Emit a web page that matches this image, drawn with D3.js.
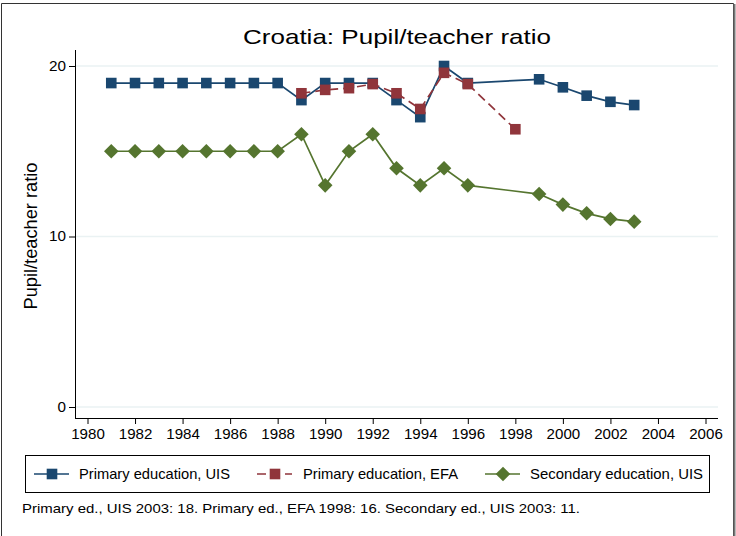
<!DOCTYPE html>
<html><head><meta charset="utf-8">
<script src="https://cdn.jsdelivr.net/npm/d3@7"></script>
<style>body{margin:0;background:#fff}svg{display:block;font-family:"Liberation Sans",Arial,sans-serif}</style>
</head><body>
<script>
const years = [1981,1982,1983,1984,1985,1986,1987,1988,1989,1990,1991,1992,1993,1994,1995,1996,1997,1998,1999,2000,2001,2002,2003];
const primaryUIS = [19,19,19,19,19,19,19,19,18,19,19,19,18,17,20,19,null,null,19.22,18.75,18.26,17.9,17.71];
const primaryEFA = [null,null,null,null,null,null,null,null,18.4,18.6,18.7,18.94,18.4,17.48,19.6,18.94,null,16.29,null,null,null,null,null];
const secondaryUIS = [15,15,15,15,15,15,15,15,16,13,15,16,14,13,14,13,null,null,12.49,11.87,11.36,11.03,10.87];
const xTicks = [1980,1982,1984,1986,1988,1990,1992,1994,1996,1998,2000,2002,2004,2006];
const yTicks = [0,10,20];
const seriesNames = ["Primary education, UIS","Primary education, EFA","Secondary education, UIS"];
const colors = ["#1a476f","#90353b","#55752f"];
const title = "Croatia: Pupil/teacher ratio";
const yTitle = "Pupil/teacher ratio";
const note = "Primary ed., UIS 2003: 18. Primary ed., EFA 1998: 16. Secondary ed., UIS 2003: 11.";

const W=736,H=536;
const svg=d3.select("body").append("svg").attr("width",W).attr("height",H);
svg.append("rect").attr("width",W).attr("height",H).attr("fill","#fff");
// outer frame
svg.append("path").attr("d","M1.5,536 V3.5 H733.5 V536").attr("fill","none").attr("stroke","#333").attr("stroke-width",1);
svg.append("line").attr("x1",734.5).attr("x2",734.5).attr("y1",4).attr("y2",536).attr("stroke","#777").attr("stroke-width",2);

const x=d3.scaleLinear().domain([1980,2006]).range([87.5,705.5]);
const y=d3.scaleLinear().domain([0,20]).range([407,66]);
const plotL=75, plotR=718, plotB=418, plotT=50;

// gridlines
svg.append("g").selectAll("line").data(yTicks).join("line")
  .attr("x1",plotL).attr("x2",plotR).attr("y1",d=>y(d)).attr("y2",d=>y(d))
  .attr("stroke","#eaf2f3").attr("stroke-width",1.5);

const stretch=(sel,perChar)=>sel.each(function(){
  const t=d3.select(this); t.attr("textLength",t.text().length*perChar).attr("lengthAdjust","spacingAndGlyphs");
});

// y axis
const ya=svg.append("g").attr("transform",`translate(${plotL},0)`)
  .call(d3.axisLeft(y).tickValues(yTicks).tickSize(6).tickPadding(3));
ya.select(".domain").attr("d",`M0.5,${plotT}V${plotB}`).attr("stroke","#000");
ya.selectAll("text").attr("font-size",14).attr("fill","#000").attr("font-family","Liberation Sans, Arial, sans-serif").call(stretch,8.5);
// x axis
const xa=svg.append("g").attr("transform",`translate(0,${plotB})`)
  .call(d3.axisBottom(x).tickValues(xTicks).tickFormat(d3.format("d")).tickSize(6).tickPadding(5));
xa.select(".domain").attr("d",`M${plotL},0.5H${plotR}`).attr("stroke","#000");
xa.selectAll("text").attr("font-size",14).attr("fill","#000").attr("font-family","Liberation Sans, Arial, sans-serif").call(stretch,8.4);

// titles
svg.append("text").attr("x",397).attr("y",44).attr("text-anchor","middle").attr("font-size",21)
  .attr("textLength",308).attr("lengthAdjust","spacingAndGlyphs").text(title);
svg.append("text").attr("transform","translate(37,236) rotate(-90)").attr("text-anchor","middle").attr("font-size",17.5)
  .attr("textLength",147).attr("lengthAdjust","spacingAndGlyphs").text(yTitle);

const allSeries=[primaryUIS,primaryEFA,secondaryUIS];
const dashes=[null,"9,5",null];
allSeries.forEach((vals,i)=>{
  const pts=years.map((yr,j)=>({yr,v:vals[j]})).filter(d=>d.v!=null);
  const line=d3.line().x(d=>x(d.yr)).y(d=>y(d.v));
  svg.append("path").datum(pts).attr("d",line).attr("fill","none")
    .attr("stroke",colors[i]).attr("stroke-width",1.7).attr("stroke-dasharray",dashes[i]);
  const g=svg.append("g");
  if(i<2){
    g.selectAll("rect").data(pts).join("rect")
      .attr("x",d=>x(d.yr)-5.3).attr("y",d=>y(d.v)-5.3).attr("width",10.6).attr("height",10.6)
      .attr("fill",colors[i]);
  } else {
    g.selectAll("path").data(pts).join("path")
      .attr("d",d=>`M${x(d.yr)},${y(d.v)-7.3}l7.3,7.3l-7.3,7.3l-7.3,-7.3z`)
      .attr("fill",colors[i]);
  }
});

// legend
const lg=svg.append("g");
lg.append("rect").attr("x",25.5).attr("y",455.5).attr("width",684).attr("height",37).attr("fill","#fff").attr("stroke","#000");
const legX=[34,257,485];
const legTextX=[79,303,530];
const legTextLen=[151,155,173];
seriesNames.forEach((n,i)=>{
  const cx=legX[i]+18, cy=474;
  lg.append("line").attr("x1",legX[i]).attr("x2",legX[i]+35).attr("y1",cy).attr("y2",cy)
    .attr("stroke",colors[i]).attr("stroke-width",1.7).attr("stroke-dasharray",dashes[i]?"9,5":null);
  if(i<2) lg.append("rect").attr("x",cx-5.3).attr("y",cy-5.3).attr("width",10.6).attr("height",10.6).attr("fill",colors[i]);
  else lg.append("path").attr("d",`M${cx},${cy-7.3}l7.3,7.3l-7.3,7.3l-7.3,-7.3z`).attr("fill",colors[i]);
  lg.append("text").attr("x",legTextX[i]).attr("y",cy+5).attr("font-size",14.5)
    .attr("textLength",legTextLen[i]).attr("lengthAdjust","spacingAndGlyphs").text(n);
});
svg.append("text").attr("x",22).attr("y",513).attr("font-size",13)
  .attr("textLength",558).attr("lengthAdjust","spacingAndGlyphs").text(note);
</script>
</body></html>
